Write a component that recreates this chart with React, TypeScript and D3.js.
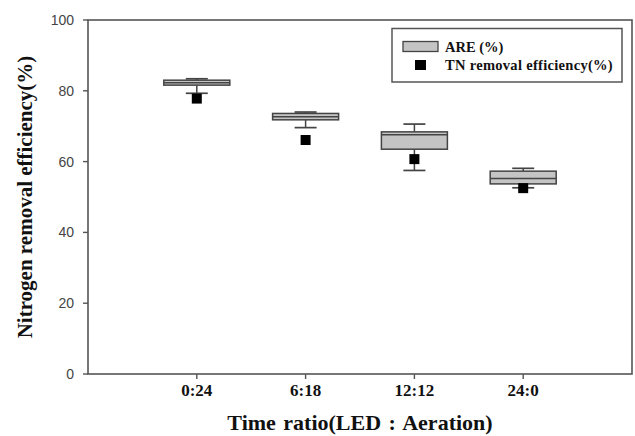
import React from "react";
import * as d3 from "d3";

const categories = ["0:24", "6:18", "12:12", "24:0"];
const whiskerHigh = [83.4, 74.0, 70.6, 58.1];
const q3 = [83.0, 73.6, 68.4, 57.3];
const medians = [82.3, 72.7, 67.6, 55.2];
const q1 = [81.6, 71.8, 63.5, 53.7];
const whiskerLow = [79.3, 69.6, 57.5, 52.6];
const tnEfficiency = [77.8, 66.1, 60.7, 52.5];
const yTicks = [0, 20, 40, 60, 80, 100];

const W = 635;
const H = 436;
const m = { left: 88, right: 3, top: 20, bottom: 62 };

export default function App() {
  const x = d3.scaleLinear().domain([0, 5]).range([m.left, W - m.right]);
  const y = d3.scaleLinear().domain([0, 100]).range([H - m.bottom, m.top]);
  const boxW = 66;
  const capW = 22;
  const sq = 10;
  const axisColor = "#555";
  const boxStroke = "#444";
  const serif = "Liberation Serif, DejaVu Serif, Times New Roman, serif";
  const sans = "Liberation Sans, Arial, sans-serif";

  return (
    <svg
      width={W}
      height={H}
      style={{ position: "absolute", left: 0, top: 0, background: "#fff" }}
    >
      <rect
        x={x(0)}
        y={y(100)}
        width={x(5) - x(0)}
        height={y(0) - y(100)}
        fill="none"
        stroke={axisColor}
        strokeWidth={1.6}
      />
      {yTicks.map((t) => (
        <g key={t}>
          <line x1={x(0) - 5} x2={x(0)} y1={y(t)} y2={y(t)} stroke={axisColor} strokeWidth={1.4} />
          <text
            x={x(0) - 14}
            y={y(t)}
            dy="0.35em"
            textAnchor="end"
            style={{ fontFamily: sans }}
            fontSize={14}
            fill="#444"
          >
            {t}
          </text>
        </g>
      ))}
      {categories.map((c, i) => (
        <g key={c}>
          <line x1={x(i + 1)} x2={x(i + 1)} y1={y(0)} y2={y(0) + 5} stroke={axisColor} strokeWidth={1.4} />
          <text
            x={x(i + 1)}
            y={y(0) + 22}
            textAnchor="middle"
            style={{ fontFamily: serif }}
            fontWeight="bold"
            fontSize={17}
            fill="#111"
          >
            {c}
          </text>
        </g>
      ))}
      {categories.map((c, i) => {
        const cx = x(i + 1);
        return (
          <g key={"b" + c}>
            <line x1={cx} x2={cx} y1={y(whiskerHigh[i])} y2={y(q3[i])} stroke={boxStroke} strokeWidth={1.5} />
            <line x1={cx} x2={cx} y1={y(q1[i])} y2={y(whiskerLow[i])} stroke={boxStroke} strokeWidth={1.5} />
            <line
              x1={cx - capW / 2}
              x2={cx + capW / 2}
              y1={y(whiskerHigh[i])}
              y2={y(whiskerHigh[i])}
              stroke={boxStroke}
              strokeWidth={1.7}
            />
            <line
              x1={cx - capW / 2}
              x2={cx + capW / 2}
              y1={y(whiskerLow[i])}
              y2={y(whiskerLow[i])}
              stroke={boxStroke}
              strokeWidth={1.7}
            />
            <rect
              x={cx - boxW / 2}
              y={y(q3[i])}
              width={boxW}
              height={y(q1[i]) - y(q3[i])}
              fill="#c4c4c4"
              stroke={boxStroke}
              strokeWidth={1.5}
            />
            <line
              x1={cx - boxW / 2}
              x2={cx + boxW / 2}
              y1={y(medians[i])}
              y2={y(medians[i])}
              stroke={boxStroke}
              strokeWidth={1.5}
            />
            <rect x={cx - sq / 2} y={y(tnEfficiency[i]) - sq / 2} width={sq} height={sq} fill="#000" />
          </g>
        );
      })}
      <g>
        <rect x={392} y={28.5} width={230} height={53.5} fill="#fff" stroke={axisColor} strokeWidth={1.5} />
        <rect x={403} y={41.5} width={35} height={10} fill="#c4c4c4" stroke={boxStroke} strokeWidth={1.3} />
        <text x={445} y={51.5} style={{ fontFamily: serif }} fontWeight="bold" fontSize={14.5} fill="#111">
          ARE (%)
        </text>
        <rect x={415} y={60} width={11} height={10} fill="#000" />
        <text
          x={445}
          y={69.5}
          style={{ fontFamily: serif }}
          fontWeight="bold"
          fontSize={14.5}
          letterSpacing={0.3}
          fill="#111"
        >
          TN removal efficiency(%)
        </text>
      </g>
      <text
        x={360}
        y={430}
        textAnchor="middle"
        style={{ fontFamily: serif }}
        fontWeight="bold"
        fontSize={22}
        wordSpacing={2}
        fill="#111"
      >
        Time ratio(LED : Aeration)
      </text>
      <text
        transform={`translate(32, ${(y(0) + y(100)) / 2}) rotate(-90)`}
        textAnchor="middle"
        style={{ fontFamily: serif }}
        fontWeight="bold"
        fontSize={21}
        fill="#111"
      >
        Nitrogen removal efficiency(%)
      </text>
    </svg>
  );
}
